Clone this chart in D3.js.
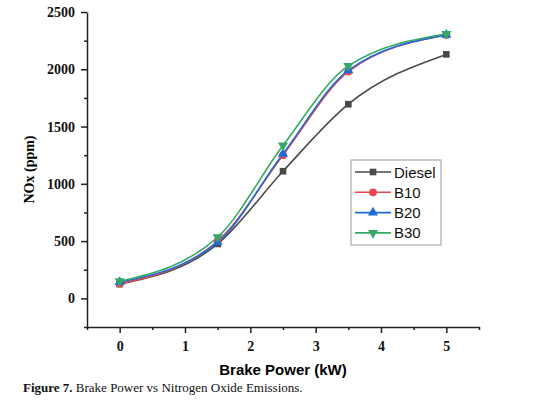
<!DOCTYPE html>
<html>
<head>
<meta charset="utf-8">
<script src="https://cdn.jsdelivr.net/npm/d3@7"></script>
<style>
  body { margin: 0; background: #fff; }
  svg { display: block; }
</style>
</head>
<body>
<div id="chart"></div>
<script>
// data
var power = [0, 1.5, 2.5, 3.5, 5];
var diesel = [125, 475, 1110, 1695, 2130];
var b10 = [128, 500, 1250, 1980, 2300];
var b20 = [142, 490, 1262, 1990, 2300];
var b30 = [150, 535, 1335, 2030, 2308];
var seriesNames = ["Diesel", "B10", "B20", "B30"];
var xTicks = [0, 1, 2, 3, 4, 5];
var yTicks = [0, 500, 1000, 1500, 2000, 2500];

var colors = ["#4a4a4a", "#e8474c", "#1f6bd8", "#35a867"];
var symbols = [d3.symbolSquare, d3.symbolCircle, d3.symbolTriangle, d3.symbolTriangle];
var values = [diesel, b10, b20, b30];

var W = 553, H = 404;
var margin = {top: 12, right: 74, bottom: 77, left: 87},
    width = W - margin.left - margin.right,
    height = H - margin.top - margin.bottom;

var svg = d3.select("#chart")
  .append("svg")
    .attr("width", W)
    .attr("height", H)
  .append("g")
    .attr("transform", "translate(" + margin.left + "," + margin.top + ")");

var x = d3.scaleLinear().domain([-0.5, 5.5]).range([0, width]);
var y = d3.scaleLinear().domain([-250, 2500]).range([height, 0]);

// minor ticks
svg.append("g")
  .attr("transform", "translate(0," + height + ")")
  .call(d3.axisBottom(x).tickValues([-0.5, 0.5, 1.5, 2.5, 3.5, 4.5, 5.5]).tickSize(3).tickFormat(""))
  .call(function(g) { g.select(".domain").remove(); });
svg.append("g")
  .call(d3.axisLeft(y).tickValues([-250, 250, 750, 1250, 1750, 2250]).tickSize(3).tickFormat(""))
  .call(function(g) { g.select(".domain").remove(); });

// X axis
var xAxis = svg.append("g")
  .attr("class", "x-axis")
  .attr("transform", "translate(0," + height + ")")
  .call(d3.axisBottom(x).tickValues(xTicks).tickFormat(d3.format("d")).tickSize(6).tickSizeOuter(0).tickPadding(8));

// Y axis
var yAxis = svg.append("g")
  .attr("class", "y-axis")
  .call(d3.axisLeft(y).tickValues(yTicks).tickFormat(d3.format("d")).tickSize(6).tickSizeOuter(0).tickPadding(6));

svg.selectAll(".x-axis text, .y-axis text")
  .style("font-family", "'Liberation Serif', 'Times New Roman', serif")
  .style("font-weight", "bold")
  .style("font-size", "14px")
  .attr("fill", "#111");
svg.selectAll(".domain, .tick line")
  .attr("stroke", "#222")
  .attr("stroke-width", 1.5);

// axis titles
svg.append("text")
  .attr("x", x(2.5))
  .attr("y", height + 48)
  .attr("text-anchor", "middle")
  .style("font-family", "'Liberation Sans', Arial, sans-serif")
  .style("font-weight", "bold")
  .style("font-size", "15px")
  .text("Brake Power (kW)");

svg.append("text")
  .attr("transform", "translate(" + (-53) + "," + y(1125) + ")rotate(-90)")
  .attr("text-anchor", "middle")
  .style("font-family", "'Liberation Serif', 'Times New Roman', serif")
  .style("font-weight", "bold")
  .style("font-size", "14px")
  .text("NOx (ppm)");

// lines
var line = d3.line()
  .x(function(d) { return x(d[0]); })
  .y(function(d) { return y(d[1]); })
  .curve(d3.curveMonotoneX);

values.forEach(function(vals, i) {
  var pts = power.map(function(p, j) { return [p, vals[j]]; });
  svg.append("path")
    .datum(pts)
    .attr("fill", "none")
    .attr("stroke", colors[i])
    .attr("stroke-width", 1.6)
    .attr("d", line);
});

function marker(g, i, cx, cy) {
  var rot = i === 3 ? 180 : 0;
  g.append("path")
    .attr("d", d3.symbol().type(symbols[i]).size(i === 1 ? 48 : 44)())
    .attr("transform", "translate(" + cx + "," + cy + ")rotate(" + rot + ")")
    .attr("fill", colors[i]);
}

values.forEach(function(vals, i) {
  var g = svg.append("g");
  power.forEach(function(p, j) { marker(g, i, x(p), y(vals[j])); });
});

// legend
var lg = svg.append("g").attr("transform", "translate(" + (351 - margin.left) + "," + (160 - margin.top) + ")");
lg.append("rect")
  .attr("width", 90).attr("height", 85)
  .attr("fill", "#fff")
  .attr("stroke", "#999").attr("stroke-width", 1);
seriesNames.forEach(function(name, i) {
  var ly = 12 + i * 20.3;
  lg.append("line")
    .attr("x1", 4).attr("x2", 40).attr("y1", ly).attr("y2", ly)
    .attr("stroke", colors[i]).attr("stroke-width", 1.6);
  marker(lg, i, 22, ly);
  lg.append("text")
    .attr("x", 43).attr("y", ly + 5.5)
    .style("font-family", "'Liberation Sans', Arial, sans-serif")
    .style("font-size", "15px")
    .attr("fill", "#111")
    .text(name);
});

// caption
var cap = d3.select("svg").append("text")
  .attr("x", 23).attr("y", 392)
  .style("font-family", "'Liberation Serif', 'Times New Roman', serif")
  .style("font-size", "13px")
  .attr("fill", "#111");
cap.append("tspan").style("font-weight", "bold").text("Figure 7.");
cap.append("tspan").text(" Brake Power vs Nitrogen Oxide Emissions.");
</script>
</body>
</html>
